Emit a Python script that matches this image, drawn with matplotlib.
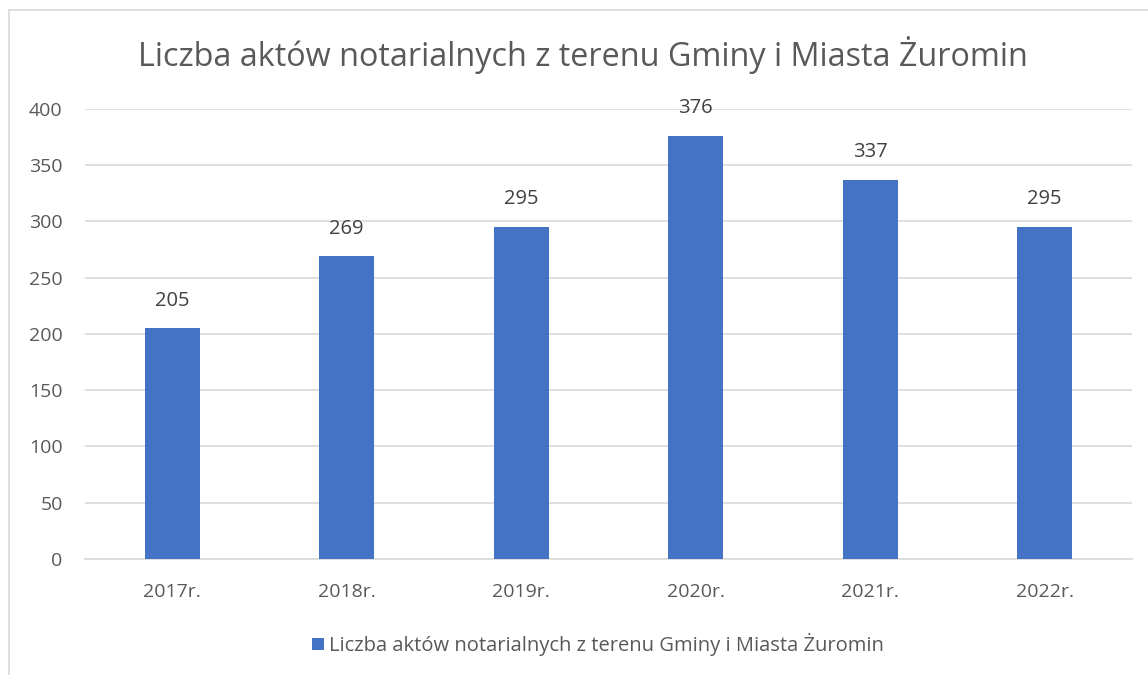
import matplotlib.pyplot as plt
from matplotlib.lines import Line2D
from matplotlib.patches import Patch

years = ['2017r.', '2018r.', '2019r.', '2020r.', '2021r.', '2022r.']
counts = [205, 269, 295, 376, 337, 295]
series_name = 'Liczba aktów notarialnych z terenu Gminy i Miasta Żuromin'

bar_color = '#4472C4'
text_color = '#595959'
grid_color = '#D9D9D9'

plt.rcParams['font.family'] = ['Open Sans', 'DejaVu Sans']

fig = plt.figure(figsize=(11.48, 6.75), dpi=100)
ax = fig.add_axes([0.074, 0.1719, 0.912, 0.6667])

x = range(len(years))
ax.bar(x, counts, width=0.315, color=bar_color, zorder=3)
for xi, v in zip(x, counts):
    ax.annotate(str(v), (xi, v), xytext=(0, 20), textcoords='offset points',
                ha='center', va='center', fontsize=14.5, color='#404040')

ax.set_xlim(-0.5, len(years) - 0.5)
ax.set_ylim(0, 400)
ax.set_yticks(range(0, 401, 50))
ax.set_xticks(list(x))
ax.set_xticklabels(years)
ax.tick_params(axis='both', length=0, labelsize=14, labelcolor=text_color)
ax.tick_params(axis='y', pad=16)
ax.tick_params(axis='x', pad=17)
ax.grid(axis='y', color=grid_color, linewidth=1.2, zorder=0)
for s in ['top', 'right', 'left']:
    ax.spines[s].set_visible(False)
ax.spines['bottom'].set_color(grid_color)
ax.spines['bottom'].set_linewidth(1.2)

fig.text(0.508, 0.918, series_name, ha='center', va='center',
         fontsize=23.3, color=text_color)

# chart frame: top and left edges
fig.add_artist(Line2D([9 / 1148, 1], [1 - 10 / 675, 1 - 10 / 675],
                      color=grid_color, linewidth=1.2))
fig.add_artist(Line2D([9 / 1148, 9 / 1148], [0, 1 - 10 / 675],
                      color=grid_color, linewidth=1.2))

handle = Patch(facecolor=bar_color, edgecolor='none')
fig.legend([handle], [series_name], loc='center', bbox_to_anchor=(0.521, 0.045),
           frameon=False, fontsize=14.5, labelcolor=text_color,
           handlelength=0.6, handleheight=0.6, handletextpad=0.25)

fig.savefig('out.png', dpi=100)
